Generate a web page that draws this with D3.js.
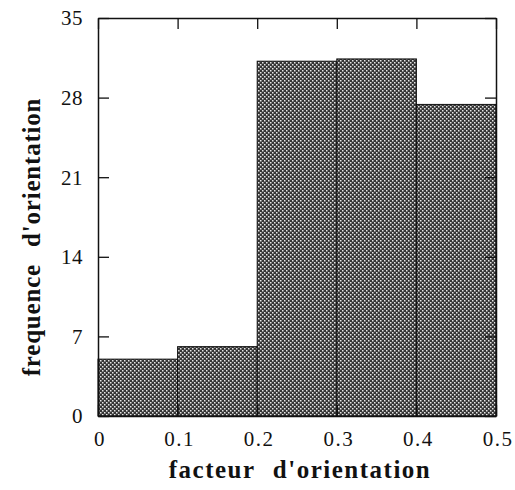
<!DOCTYPE html>
<html>
<head>
<meta charset="utf-8">
<script src="https://cdn.jsdelivr.net/npm/d3@7"></script>
<style>
  html, body { margin: 0; padding: 0; background: #fff; }
  svg { display: block; }
</style>
</head>
<body>
<svg id="chart" width="515" height="490"></svg>
<script>
// ---- data ----
const binStarts = [0, 0.1, 0.2, 0.3, 0.4];
const binEnds = [0.1, 0.2, 0.3, 0.4, 0.5];
const frequencies = [5, 6.1, 31.2, 31.4, 27.4];
const xTicks = [0, 0.1, 0.2, 0.3, 0.4, 0.5];
const xTickLabels = ["0", "0.1", "0.2", "0.3", "0.4", "0.5"];
const yTicks = [0, 7, 14, 21, 28, 35];
const xTitle = "facteur d'orientation";
const yTitle = "frequence d'orientation";

const bins = binStarts.map((s, i) => ({ x0: s, x1: binEnds[i], v: frequencies[i] }));

// ---- layout ----
const margin = { left: 98, right: 19, top: 18, bottom: 74 };
const W = 515, H = 490;
const svg = d3.select("#chart");
const x = d3.scaleLinear().domain([0, 0.5]).range([margin.left, W - margin.right]);
const y = d3.scaleLinear().domain([0, 35]).range([H - margin.bottom, margin.top]);

// pattern
const defs = svg.append("defs");
const pat = defs.append("pattern")
  .attr("id", "dots").attr("patternUnits", "userSpaceOnUse")
  .attr("width", 4).attr("height", 4);
pat.append("rect").attr("width", 4).attr("height", 4).attr("fill", "#353535");
pat.append("rect").attr("x", 0).attr("y", 0).attr("width", 1.5).attr("height", 1.5).attr("fill", "#e6e6e6");
pat.append("rect").attr("x", 2).attr("y", 2).attr("width", 1.5).attr("height", 1.5).attr("fill", "#e6e6e6");

// bars
svg.append("g").selectAll("rect").data(bins).join("rect")
  .attr("x", d => x(d.x0))
  .attr("y", d => y(d.v))
  .attr("width", d => x(d.x1) - x(d.x0))
  .attr("height", d => y(0) - y(d.v))
  .attr("fill", "url(#dots)")
  .attr("stroke", "#111")
  .attr("stroke-width", 1);

// axes (ticks inward on all four sides)
const tickLen = 11;
const axisStyle = g => {
  g.select(".domain").attr("stroke", "#111").attr("stroke-width", 1.5);
  g.selectAll(".tick line").attr("stroke", "#111").attr("stroke-width", 1.3);
  g.selectAll("text").remove();
};

svg.append("g").attr("transform", `translate(${margin.left},0)`)
  .call(d3.axisRight(y).tickValues(yTicks).tickSize(tickLen).tickSizeOuter(0))
  .call(axisStyle);
svg.append("g").attr("transform", `translate(${W - margin.right},0)`)
  .call(d3.axisLeft(y).tickValues(yTicks).tickSize(tickLen).tickSizeOuter(0))
  .call(axisStyle);
svg.append("g").attr("transform", `translate(0,${margin.top})`)
  .call(d3.axisBottom(x).tickValues(xTicks).tickSize(tickLen).tickSizeOuter(0))
  .call(axisStyle);
svg.append("g").attr("transform", `translate(0,${H - margin.bottom})`)
  .call(d3.axisTop(x).tickValues(xTicks).tickSize(tickLen).tickSizeOuter(0))
  .call(axisStyle);

// tick labels
const fontFam = "'Liberation Serif', 'Times New Roman', serif";
svg.append("g").selectAll("text").data(yTicks).join("text")
  .attr("x", margin.left - 15)
  .attr("y", d => y(d))
  .attr("dy", "0.35em")
  .attr("text-anchor", "end")
  .attr("font-family", fontFam)
  .attr("font-size", 21)
  .attr("letter-spacing", "0.5px")
  .attr("fill", "#111")
  .text(d => d);

svg.append("g").selectAll("text").data(xTicks).join("text")
  .attr("x", d => x(d) + 2)
  .attr("y", H - margin.bottom + 30)
  .attr("text-anchor", "middle")
  .attr("font-family", fontFam)
  .attr("font-size", 21)
  .attr("letter-spacing", "1.5px")
  .attr("fill", "#111")
  .text((d, i) => xTickLabels[i]);

// axis titles
svg.append("text")
  .attr("x", 300)
  .attr("y", 478)
  .attr("text-anchor", "middle")
  .attr("font-family", fontFam)
  .attr("font-weight", "bold")
  .attr("font-size", 25)
  .attr("letter-spacing", "1.5px")
  .attr("word-spacing", "10px")
  .attr("fill", "#111")
  .text(xTitle);

svg.append("text")
  .attr("transform", `translate(40,237) rotate(-90)`)
  .attr("text-anchor", "middle")
  .attr("font-family", fontFam)
  .attr("font-weight", "bold")
  .attr("font-size", 25)
  .attr("letter-spacing", "0.8px")
  .attr("word-spacing", "10px")
  .attr("fill", "#111")
  .text(yTitle);
</script>
</body>
</html>
